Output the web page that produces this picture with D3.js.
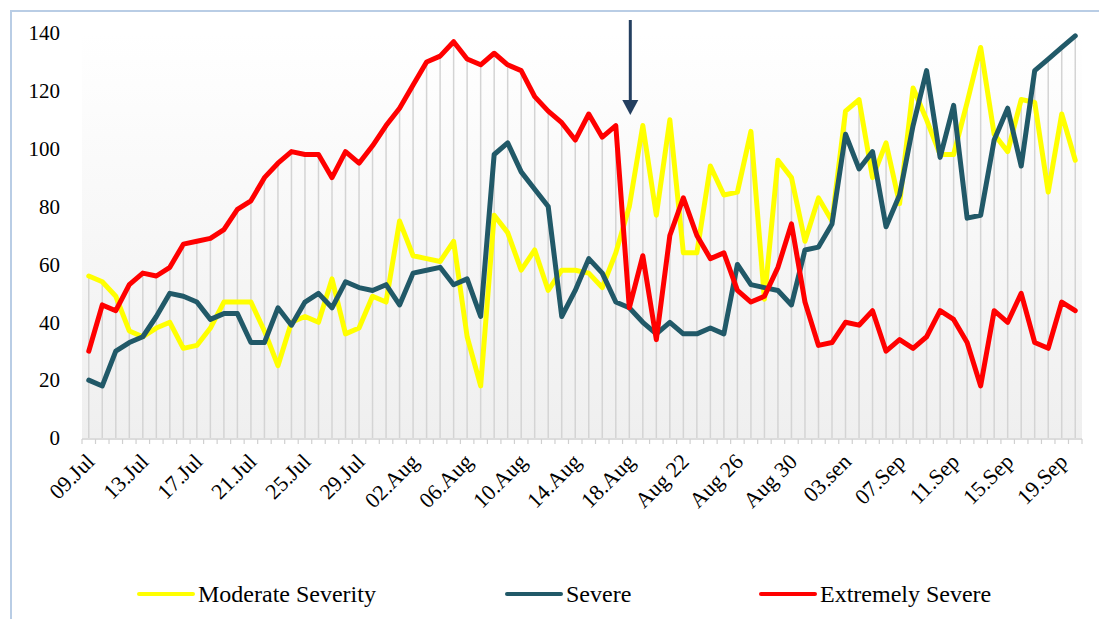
<!DOCTYPE html>
<html>
<head>
<meta charset="utf-8">
<script src="https://cdn.jsdelivr.net/npm/d3@7"></script>
<style>
body{margin:0;background:#fff;overflow:hidden;}
svg text{font-family:"Liberation Serif","Times New Roman",serif;fill:#000;}
</style>
</head>
<body>
<svg id="chart"></svg>
<script>
// daily counts, 09 Jul .. 20 Sep (74 days)
var moderate=[56,54,49,37,35,38,40,31,32,38,
    47,47,47,37,25,40,42,40,55,36,
    38,49,47,75,63,62,61,68,35,18,
    77,71,58,65,51,58,58,57,52,64,
    80,108,77,110,64,64,94,84,85,106,
    48,96,90,68,83,75,113,117,90,102,
    81,121,110,98,98,116,135,105,99,117,
    116,85,112,96]
var severe=[20,18,30,33,35,42,50,49,47,41,
    43,43,33,33,45,39,47,50,45,54,
    52,51,53,46,57,58,59,53,55,42,
    98,102,92,86,80,42,51,62,57,47,
    45,40,36,40,36,36,38,36,60,53,
    52,51,46,65,66,74,105,93,99,73,
    84,108,127,97,115,76,77,103,114,94,
    127,131,135,139]
var extreme=[30,46,44,53,57,56,59,67,68,69,
    72,79,82,90,95,99,98,98,90,99,
    95,101,108,114,122,130,132,137,131,129,
    133,129,127,118,113,109,103,112,104,108,
    45,63,34,70,83,70,62,64,51,47,
    49,59,74,47,32,33,40,39,44,30,
    34,31,35,44,41,33,18,44,40,50,
    33,31,47,44]
// every 4th day gets a label
var tickLabels=["09.Jul","13.Jul","17.Jul","21.Jul","25.Jul","29.Jul","02.Aug","06.Aug","10.Aug","14.Aug",
    "18.Aug","Aug 22","Aug 26","Aug 30","03.sen","07.Sep","11.Sep","15.Sep","19.Sep"]
var yTicks=[0,20,40,60,80,100,120,140]
var seriesNames=["Moderate Severity","Severe","Extremely Severe"]
var arrowDay=40 // 18 Aug

var W=1099, H=619
var margin={top:33,right:17,bottom:181,left:82}
var n=moderate.length

var svg=d3.select("#chart").attr("width",W).attr("height",H)

var defs=svg.append("defs")
var grad=defs.append("linearGradient").attr("id","bg").attr("x1",0).attr("y1",0).attr("x2",0).attr("y2",1)
grad.append("stop").attr("offset","0%").attr("stop-color","#ffffff")
grad.append("stop").attr("offset","100%").attr("stop-color","#efefef")

// outer frame
svg.append("rect")
    .attr("x",11).attr("y",11).attr("width",W+40).attr("height",H+40)
    .attr("fill","none").attr("stroke","#b9cde5").attr("stroke-width",2)

var xScale=d3.scaleBand()
    .domain(d3.range(n))
    .range([margin.left,W-margin.right])
var yScale=d3.scaleLinear()
    .domain([0,140])
    .range([H-margin.bottom,margin.top])
var cx=function(i){return xScale(i)+xScale.bandwidth()/2}

svg.append("rect")
    .attr("x",margin.left).attr("y",margin.top)
    .attr("width",W-margin.right-margin.left)
    .attr("height",H-margin.bottom-margin.top)
    .attr("fill","url(#bg)")

// drop lines from highest series to the axis
svg.append("g").selectAll("line")
    .data(d3.range(n))
    .enter().append("line")
    .attr("x1",cx).attr("x2",cx)
    .attr("y1",function(i){return yScale(Math.max(moderate[i],severe[i],extreme[i]))})
    .attr("y2",yScale(0))
    .attr("stroke","#d4d4d4").attr("stroke-width",1.5)

// x axis with ticks between categories
var xAxis=svg.append("g")
xAxis.append("line")
    .attr("x1",margin.left).attr("x2",W-margin.right)
    .attr("y1",yScale(0)+1).attr("y2",yScale(0)+1)
    .attr("stroke","#d0d0d0").attr("stroke-width",1.5)
xAxis.selectAll("line.tick")
    .data(d3.range(n+1))
    .enter().append("line")
    .attr("class","tick")
    .attr("x1",function(i){return margin.left+i*xScale.step()})
    .attr("x2",function(i){return margin.left+i*xScale.step()})
    .attr("y1",yScale(0)+1).attr("y2",yScale(0)+6)
    .attr("stroke","#d0d0d0").attr("stroke-width",1.2)

xAxis.selectAll("text")
    .data(tickLabels)
    .enter().append("text")
    .attr("text-anchor","end")
    .attr("font-size","22px")
    .attr("transform",function(d,k){
        return "translate("+(cx(k*4)+7)+","+(yScale(0)+25)+") rotate(-45)"
    })
    .text(function(d){return d})

// y axis labels
svg.append("g")
    .attr("transform","translate("+margin.left+",0)")
    .call(d3.axisLeft(yScale).tickValues(yTicks).tickSize(0).tickPadding(22))
    .call(function(g){g.select(".domain").remove()})
    .selectAll("text")
    .attr("font-size","21px")
    .attr("font-family","Liberation Serif")

var line=d3.line()
    .x(function(d,i){return cx(i)})
    .y(function(d){return yScale(d)})
    .curve(d3.curveLinear)

var seriesData=[moderate,severe,extreme]
var colors=["#ffff00","#215968","#ff0000"]
seriesData.forEach(function(s,k){
    svg.append("path")
        .datum(s)
        .attr("d",line)
        .attr("fill","none")
        .attr("stroke",colors[k])
        .attr("stroke-width",5)
        .attr("stroke-linejoin","round")
        .attr("stroke-linecap","round")
})

// arrow pointing at 18 Aug
var ax=cx(arrowDay)+1
svg.append("line")
    .attr("x1",ax).attr("x2",ax).attr("y1",20).attr("y2",102)
    .attr("stroke","#243f60").attr("stroke-width",3)
svg.append("path")
    .attr("d","M"+(ax-8)+",100 L"+(ax+8)+",100 L"+ax+",115 Z")
    .attr("fill","#243f60")

// legend
var legendX=[139,507,761]
var legend=svg.append("g").attr("transform","translate(0,594)")
seriesNames.forEach(function(name,k){
    legend.append("line")
        .attr("x1",legendX[k]).attr("x2",legendX[k]+54)
        .attr("y1",0).attr("y2",0)
        .attr("stroke",colors[k]).attr("stroke-width",4).attr("stroke-linecap","round")
    legend.append("text")
        .attr("x",legendX[k]+59).attr("y",0)
        .attr("dy","0.33em")
        .attr("font-size","24px")
        .text(name)
})
</script>
</body>
</html>
